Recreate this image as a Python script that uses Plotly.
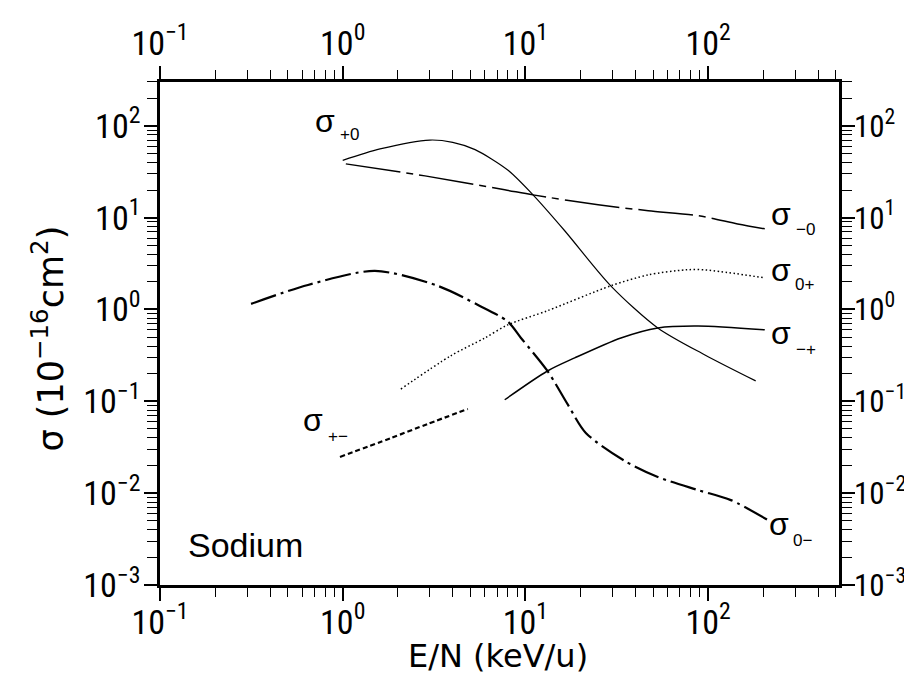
import numpy as np
import plotly.graph_objects as go

# ---------------- data ----------------
sp0_x = [1.0, 1.6, 3.0, 4.0, 5.3, 8.0, 11.0, 16.4, 29.3, 53, 96, 182]
sp0_y = [42, 56, 70, 66, 55, 33, 17.7, 7.2, 1.81, 0.63, 0.32, 0.167]

sm0_x = [1.04, 2.82, 7.7, 11.0, 25, 47, 88, 145, 204]
sm0_y = [38.5, 28.5, 20.1, 17.7, 13.8, 11.9, 10.5, 8.55, 7.55]

s0p_x = [2.08, 3.9, 6.0, 8.0, 13.2, 29.3, 47, 75, 96, 204]
s0p_y = [0.136, 0.313, 0.49, 0.68, 0.97, 1.81, 2.38, 2.7, 2.7, 2.21]

smp_x = [7.7, 13.2, 18.6, 33.3, 53, 88, 204]
smp_y = [0.104, 0.214, 0.297, 0.49, 0.63, 0.66, 0.60]

s0m_x = [0.315, 0.645, 1.5, 3.31, 5.5, 8.0, 9.45, 13.2, 17.1, 21.4, 35, 53, 88, 133, 212]
s0m_y = [1.15, 1.85, 2.63, 1.81, 1.12, 0.74, 0.49, 0.214, 0.0914, 0.0453, 0.0224, 0.015, 0.0108, 0.0084, 0.0051]

spm_x = [0.966, 1.84, 2.92, 4.84]
spm_y = [0.0248, 0.0399, 0.0567, 0.0826]

x_tickvals = [0.1, 1, 10, 100]
x_ticktext = ["10<sup>\u22121</sup>", "10<sup>0</sup>", "10<sup>1</sup>", "10<sup>2</sup>"]
y_tickvals = [0.001, 0.01, 0.1, 1, 10, 100]
y_ticktext = ["10<sup>\u22123</sup>", "10<sup>\u22122</sup>", "10<sup>\u22121</sup>",
              "10<sup>0</sup>", "10<sup>1</sup>", "10<sup>2</sup>"]
x_minor = [m * 10.0 ** e for e in (-1, 0, 1) for m in range(2, 10)] + [200, 300, 400, 500]
y_minor = [m * 10.0 ** e for e in (-3, -2, -1, 0, 1) for m in range(2, 10)] + [200, 300]

# curve labels: (sigma position x, y, subscript text, subscript x, y)
labels = [
    (0.80, 113, "+0", 1.095, 79.8),
    (249, 11.0, "\u22120", 342, 7.36),
    (249, 2.70, "0+", 337, 1.85),
    (249, 0.556, "\u2212+", 342, 0.363),
    (243, 0.00461, "0\u2212", 330, 0.00309),
    (0.687, 0.0627, "+\u2212", 0.941, 0.0409),
]
panel_label = ("Sodium", 0.295, 0.00273)

FONT = "Liberation Sans"
WIDE = "DejaVu Sans"
NARROW = "Liberation Sans Narrow, Roboto Condensed, Roboto, Liberation Sans"

fig = go.Figure()

def add_curve(x, y, width, dash):
    fig.add_trace(go.Scatter(x=x, y=y, mode="lines",
                             line=dict(color="black", width=width, dash=dash, shape="spline", smoothing=0.8),
                             showlegend=False, hoverinfo="skip"))

add_curve(sp0_x, sp0_y, 1.2, "solid")
add_curve(sm0_x, sm0_y, 1.5, "55px,6px,7px,6px")
add_curve(s0p_x, s0p_y, 1.5, "1.5px,2.5px")
add_curve(smp_x, smp_y, 1.5, "solid")
add_curve(s0m_x, s0m_y, 2.2, "26px,5px,3px,5px")
add_curve(spm_x, spm_y, 2.2, "5px,3px")

# invisible trace to activate the mirrored (top/right) labelled axes
fig.add_trace(go.Scatter(x=sp0_x, y=sp0_y, xaxis="x2", yaxis="y2", mode="lines",
                         line=dict(width=0), opacity=0, showlegend=False, hoverinfo="skip"))

for sx, sy, sub, bx, by in labels:
    fig.add_annotation(x=np.log10(sx), y=np.log10(sy), text="\u03c3", showarrow=False,
                       font=dict(family=FONT, size=32, color="black"),
                       xanchor="center", yanchor="middle")
    fig.add_annotation(x=np.log10(bx), y=np.log10(by), text=sub, showarrow=False,
                       font=dict(family=FONT, size=17, color="black"),
                       xanchor="center", yanchor="middle")

fig.add_annotation(x=np.log10(panel_label[1]), y=np.log10(panel_label[2]), text=panel_label[0],
                   showarrow=False, font=dict(family=FONT, size=34, color="black"),
                   xanchor="center", yanchor="middle")

# axis titles
fig.add_annotation(xref="paper", yref="paper", x=0.498, y=-0.141, text="E/N (keV/u)",
                   showarrow=False, font=dict(family=WIDE, size=32, color="black"),
                   xanchor="center", yanchor="middle")
fig.add_annotation(xref="paper", yref="paper", x=-0.165, y=0.49,
                   text="\u03c3 (10<sup>\u221216</sup>cm<sup>2</sup>)", textangle=-90,
                   showarrow=False, font=dict(family=WIDE, size=35, color="black"),
                   xanchor="center", yanchor="middle")

tickfont = dict(family=NARROW, size=34, color="black")
common = dict(type="log", showgrid=False, zeroline=False, showline=True, linecolor="black",
              linewidth=2.5, ticks="outside", ticklen=13, tickwidth=1.6, tickcolor="black",
              tickmode="array", automargin=False)
xr = [-1, 2.716]
yr = [-3, 2.477]
xminor = dict(tickmode="array", tickvals=x_minor, ticks="outside", ticklen=9, tickwidth=1.4,
              tickcolor="black", showgrid=False)
yminor = dict(tickmode="array", tickvals=y_minor, ticks="outside", ticklen=10, tickwidth=1.4,
              tickcolor="black", showgrid=False)

fig.update_layout(
    width=912, height=677, autosize=False,
    margin=dict(l=152, r=81, t=74, b=100, autoexpand=False),
    paper_bgcolor="white", plot_bgcolor="white",
    showlegend=False,
    xaxis=dict(range=xr, tickvals=x_tickvals, ticktext=x_ticktext, minor=xminor,
               tickfont=tickfont, ticklabelstandoff=-8, **common),
    xaxis2=dict(range=xr, tickvals=x_tickvals, ticktext=x_ticktext, minor=xminor,
                tickfont=tickfont, overlaying="x", side="top", anchor="y",
                ticklabelstandoff=-2, **common),
    yaxis=dict(range=yr, tickvals=y_tickvals, ticktext=y_ticktext, minor=yminor,
               tickfont=tickfont, ticklabelstandoff=-3, **common),
    yaxis2=dict(range=yr, tickvals=y_tickvals, ticktext=y_ticktext, minor=yminor,
                tickfont=dict(family=NARROW, size=31, color="black"),
                overlaying="y", side="right", anchor="x", ticklabelstandoff=-7, **common),
)

fig.write_html("out.html")
